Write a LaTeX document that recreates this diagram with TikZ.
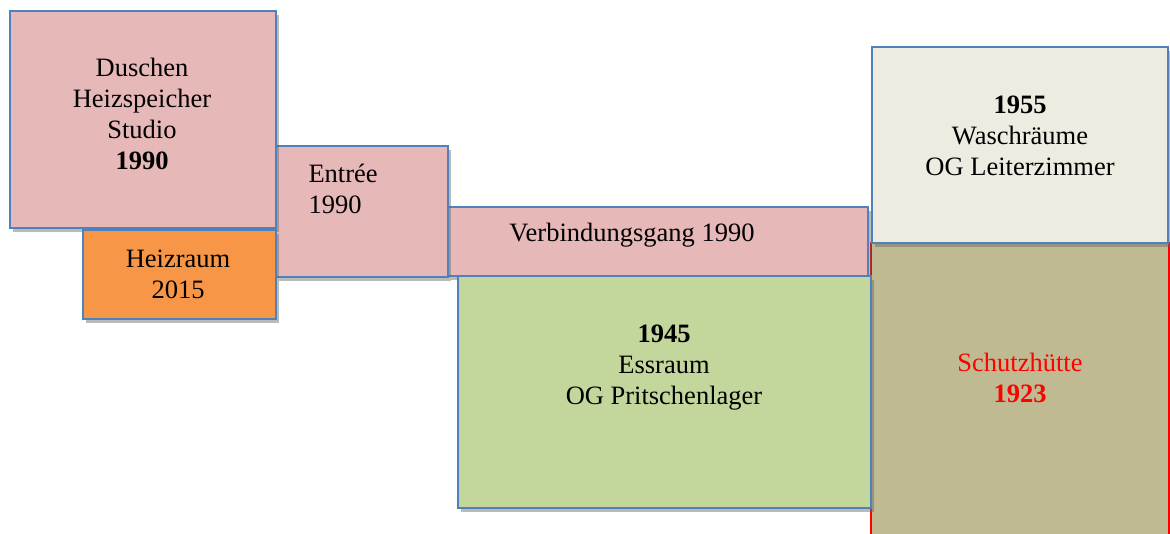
\documentclass[tikz,border=0pt]{standalone}
\usepackage{fontspec}
\setmainfont{Liberation Serif}
\usetikzlibrary{positioning, shadows}
\definecolor{rPink}{HTML}{E6B9B8}
\definecolor{rOrange}{HTML}{F79646}
\definecolor{rGreen}{HTML}{C3D69B}
\definecolor{rSand}{HTML}{EEECE1}
\definecolor{rOlive}{HTML}{C0BA93}
\definecolor{rBlue}{HTML}{4F81BD}
\definecolor{rRed}{HTML}{FF0000}

\begin{document}
\begin{tikzpicture}[x=1pt, y=-1pt,
  room/.style={draw=rBlue, line width=1.5pt, inner sep=0pt,
               drop shadow={shadow xshift=3pt, shadow yshift=-4pt,
                            opacity=.45, fill=black!60}},
  txt/.style={align=center, font=\fontsize{26.5}{31}\selectfont},
]
  \clip (0,0) rectangle (1170,533);
  \fill[white] (0,0) rectangle (1170,533);

  % old hut and later additions
  \node[draw=rRed, line width=1.5pt, fill=rOlive, minimum width=298pt,
        minimum height=317pt] (schutz) at (1020,401.5) {};
  \node[room, fill=rSand, minimum width=296pt, minimum height=196pt]
    (wasch) at (1020,145) {};
  \node[room, fill=rPink, minimum width=420pt, minimum height=69pt]
    (gang) at (658,241.5) {};
  \node[room, fill=rPink, minimum width=172pt, minimum height=131pt]
    (entree) at (362,211.5) {};
  \node[room, fill=rPink, minimum width=266pt, minimum height=217pt]
    (dusch) at (143,119.5) {};
  \node[room, fill=rOrange, minimum width=193pt, minimum height=89pt]
    (heiz) at (179.5,274.5) {};
  \node[room, fill=rGreen, minimum width=413pt, minimum height=232pt]
    (ess) at (664.5,392) {};

  % labels
  \node[txt] (duschT) at (142,114) {Duschen\\Heizspeicher\\Studio\\\textbf{1990}};
  \node[txt] (heizT) at (178,274) {Heizraum\\2015};
  \node[txt, align=left, anchor=west] (entreeT) at (305,188.5) {Entrée\\1990};
  \node[txt] (gangT) at (632,235) {Verbindungsgang 1990};
  \node[txt] (essT) at (664,368) {\textbf{1945}\\Essraum\\OG Pritschenlager};
  \node[txt] (waschT) at (1020,136) {\textbf{1955}\\Waschräume\\OG Leiterzimmer};
  \node[txt, text=rRed] (schutzT) at (1020,377.5) {Schutzhütte\\\textbf{1923}};
\end{tikzpicture}
\end{document}
